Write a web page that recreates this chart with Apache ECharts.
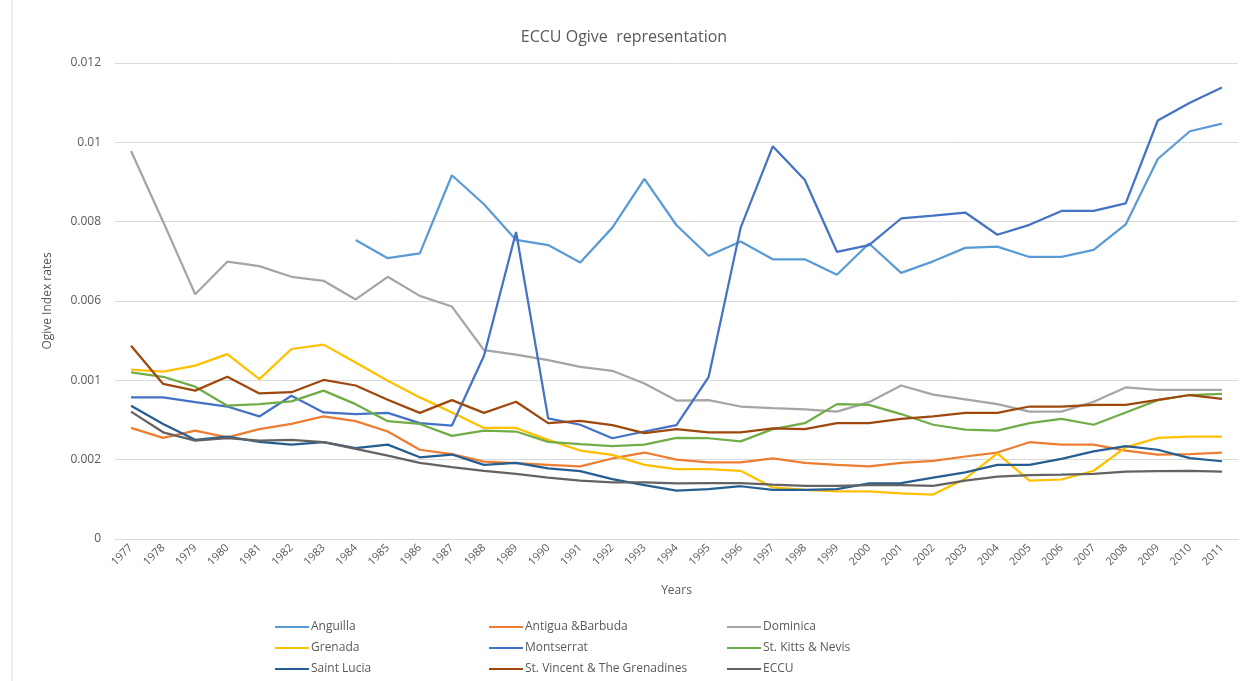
<!DOCTYPE html>
<html>
<head>
<meta charset="utf-8">
<title>ECCU Ogive representation</title>
<script src="https://cdn.jsdelivr.net/npm/echarts@6/dist/echarts.min.js"></script>
<style>
  html, body { margin: 0; padding: 0; background: #fff; }
  #chart { width: 1248px; height: 681px; }
</style>
</head>
<body>
<div id="chart"></div>
<script>
// years on the x axis
const years = ['1977', '1978', '1979', '1980', '1981', '1982', '1983', '1984', '1985', '1986',
  '1987', '1988', '1989', '1990', '1991', '1992', '1993', '1994', '1995', '1996',
  '1997', '1998', '1999', '2000', '2001', '2002', '2003', '2004', '2005', '2006',
  '2007', '2008', '2009', '2010', '2011']

// y tick labels as printed in the picture (0.004 is shown as 0.001)
const yTickLabels = ['0', '0.002', '0.001', '0.006', '0.008', '0.01', '0.012']

const anguilla = [null, null, null, null, null, null, null,
  0.00754, 0.00708, 0.0072, 0.00917, 0.00844, 0.00754, 0.00741, 0.00697, 0.00785, 0.00908, 0.00791,
  0.00714, 0.0075, 0.00705, 0.00705, 0.00666, 0.00745, 0.00671, 0.007, 0.00734, 0.00737,
  0.00711, 0.00711, 0.00729, 0.00793, 0.00958, 0.01028, 0.01047]
const antigua = [0.0028, 0.00255, 0.00273, 0.00256, 0.00277, 0.0029, 0.00309, 0.00297, 0.00271,
  0.00225, 0.00214, 0.00195, 0.00191, 0.00187, 0.00183, 0.00203, 0.00218, 0.002,
  0.00193, 0.00193, 0.00203, 0.00192, 0.00187, 0.00183, 0.00192, 0.00197, 0.00208,
  0.00218, 0.00244, 0.00238, 0.00238, 0.00223, 0.00213, 0.00214, 0.00218]
const dominica = [0.00978, 0.008, 0.00617, 0.00699, 0.00688, 0.00661, 0.00651, 0.00604, 0.00661,
  0.00613, 0.00586, 0.00476, 0.00465, 0.00451, 0.00434, 0.00424, 0.00392, 0.00349,
  0.0035, 0.00334, 0.0033, 0.00327, 0.00321, 0.00345, 0.00387, 0.00364, 0.00352,
  0.0034, 0.00321, 0.00321, 0.00346, 0.00382, 0.00376, 0.00376, 0.00376]
const grenada = [0.00427, 0.00422, 0.00437, 0.00466, 0.00403, 0.00479, 0.0049, 0.00445, 0.00399,
  0.00357, 0.00319, 0.0028, 0.0028, 0.0025, 0.00223, 0.00212, 0.00187, 0.00176,
  0.00176, 0.00172, 0.0013, 0.00124, 0.0012, 0.0012, 0.00115, 0.00112, 0.00152,
  0.00216, 0.00147, 0.0015, 0.00172, 0.00231, 0.00255, 0.00258, 0.00258]
const montserrat = [0.00357, 0.00357, 0.00345, 0.00334, 0.00309, 0.00361, 0.00319, 0.00315, 0.00318,
  0.00292, 0.00286, 0.00462, 0.00774, 0.00304, 0.00288, 0.00254, 0.00271, 0.00287,
  0.00408, 0.00785, 0.0099, 0.00905, 0.00724, 0.00741, 0.00808, 0.00815, 0.00823,
  0.00767, 0.00792, 0.00827, 0.00827, 0.00846, 0.01055, 0.011, 0.01138]
const stKitts = [0.0042, 0.00409, 0.00384, 0.00336, 0.0034, 0.00347, 0.00374, 0.0034, 0.00297,
  0.0029, 0.0026, 0.00273, 0.00271, 0.00245, 0.00239, 0.00234, 0.00238, 0.00255,
  0.00254, 0.00246, 0.00277, 0.00292, 0.0034, 0.00338, 0.00315, 0.00288, 0.00276,
  0.00273, 0.00292, 0.00303, 0.00288, 0.00319, 0.0035, 0.00363, 0.00366]
const saintLucia = [0.00336, 0.0029, 0.0025, 0.00258, 0.00245, 0.00238, 0.00244, 0.00229, 0.00238,
  0.00206, 0.00213, 0.00187, 0.00192, 0.00178, 0.00171, 0.00151, 0.00136, 0.00122,
  0.00126, 0.00133, 0.00124, 0.00124, 0.00126, 0.0014, 0.00141, 0.00155, 0.00168,
  0.00187, 0.00187, 0.00202, 0.00221, 0.00234, 0.00225, 0.00204, 0.00196]
const stVincent = [0.00487, 0.00391, 0.00374, 0.00409, 0.00367, 0.0037, 0.00401, 0.00387, 0.00351,
  0.00318, 0.0035, 0.00318, 0.00346, 0.00292, 0.00298, 0.00287, 0.00267, 0.00277,
  0.00269, 0.00269, 0.00279, 0.00277, 0.00292, 0.00292, 0.00303, 0.00309, 0.00318,
  0.00318, 0.00334, 0.00334, 0.00338, 0.00338, 0.00351, 0.00363, 0.00353]
const eccu = [0.00321, 0.00269, 0.00248, 0.00254, 0.00248, 0.0025, 0.00244, 0.00227, 0.0021,
  0.00192, 0.00181, 0.00172, 0.00164, 0.00155, 0.00147, 0.00143, 0.00143, 0.0014,
  0.00141, 0.00141, 0.00137, 0.00134, 0.00134, 0.00136, 0.00136, 0.00134, 0.00147,
  0.00157, 0.00161, 0.00162, 0.00164, 0.0017, 0.00171, 0.00172, 0.0017]

const seriesList = [
  { name: 'Anguilla', data: anguilla, color: '#5B9BD5' },
  { name: 'Antigua &Barbuda', data: antigua, color: '#ED7D31' },
  { name: 'Dominica', data: dominica, color: '#A5A5A5' },
  { name: 'Grenada', data: grenada, color: '#FFC000' },
  { name: 'Montserrat', data: montserrat, color: '#4472C4' },
  { name: 'St. Kitts & Nevis', data: stKitts, color: '#70AD47' },
  { name: 'Saint Lucia', data: saintLucia, color: '#255E91' },
  { name: 'St. Vincent & The Grenadines', data: stVincent, color: '#9E480E' },
  { name: 'ECCU', data: eccu, color: '#636363' },
]

const textColor = '#595959'
const font = 'Open Sans'

const legendCol = (left, names) => ({
  left: left,
  top: 616,
  orient: 'vertical',
  itemWidth: 34,
  itemHeight: 14,
  itemGap: 9,
  icon: 'path://M0,6 L34,6 L34,8 L0,8 Z',
  data: names,
  textStyle: { color: textColor, fontFamily: font, fontSize: 12, padding: [0, 0, 0, -3] },
})

const chart = echarts.init(document.getElementById('chart'))
const option = {
  animation: false,
  title: {
    text: 'ECCU Ogive  representation',
    left: 'center',
    top: 24,
    textStyle: { color: textColor, fontFamily: font, fontSize: 16, fontWeight: 'normal' },
  },
  legend: [
    legendCol(270, ['Anguilla', 'Grenada', 'Saint Lucia']),
    legendCol(484, ['Antigua &Barbuda', 'Montserrat', 'St. Vincent & The Grenadines']),
    legendCol(722, ['Dominica', 'St. Kitts & Nevis', 'ECCU']),
  ],
  graphic: [
    {
      type: 'line',
      shape: { x1: 12, y1: 0, x2: 12, y2: 681 },
      style: { stroke: '#D9D9D9', lineWidth: 1 },
    },
  ],
  grid: {
    left: 115,
    right: 10,
    top: 63,
    bottom: 142,
  },
  xAxis: {
    type: 'category',
    data: years,
    boundaryGap: true,
    name: 'Years',
    nameLocation: 'middle',
    nameGap: 46,
    nameTextStyle: { color: textColor, fontFamily: font, fontSize: 12 },
    axisLine: { lineStyle: { color: '#D9D9D9' } },
    axisTick: { show: false },
    axisLabel: {
      interval: 0,
      rotate: 45,
      color: textColor,
      fontFamily: font,
      fontSize: 11,
      margin: 7,
    },
  },
  yAxis: {
    type: 'value',
    min: 0,
    max: 0.012,
    interval: 0.002,
    name: 'Ogive Index rates',
    nameLocation: 'middle',
    nameGap: 61,
    nameTextStyle: { color: textColor, fontFamily: font, fontSize: 12 },
    axisLine: { show: false },
    axisTick: { show: false },
    splitLine: { lineStyle: { color: '#D9D9D9' } },
    axisLabel: {
      color: textColor,
      fontFamily: font,
      fontSize: 12,
      margin: 14,
      formatter: (v) => yTickLabels[Math.round(v / 0.002)],
    },
  },
  series: seriesList.map((s) => ({
    name: s.name,
    type: 'line',
    data: s.data,
    symbol: 'none',
    connectNulls: false,
    lineStyle: { width: 2.25, color: s.color },
    itemStyle: { color: s.color },
  })),
}
chart.setOption(option)
</script>
</body>
</html>
